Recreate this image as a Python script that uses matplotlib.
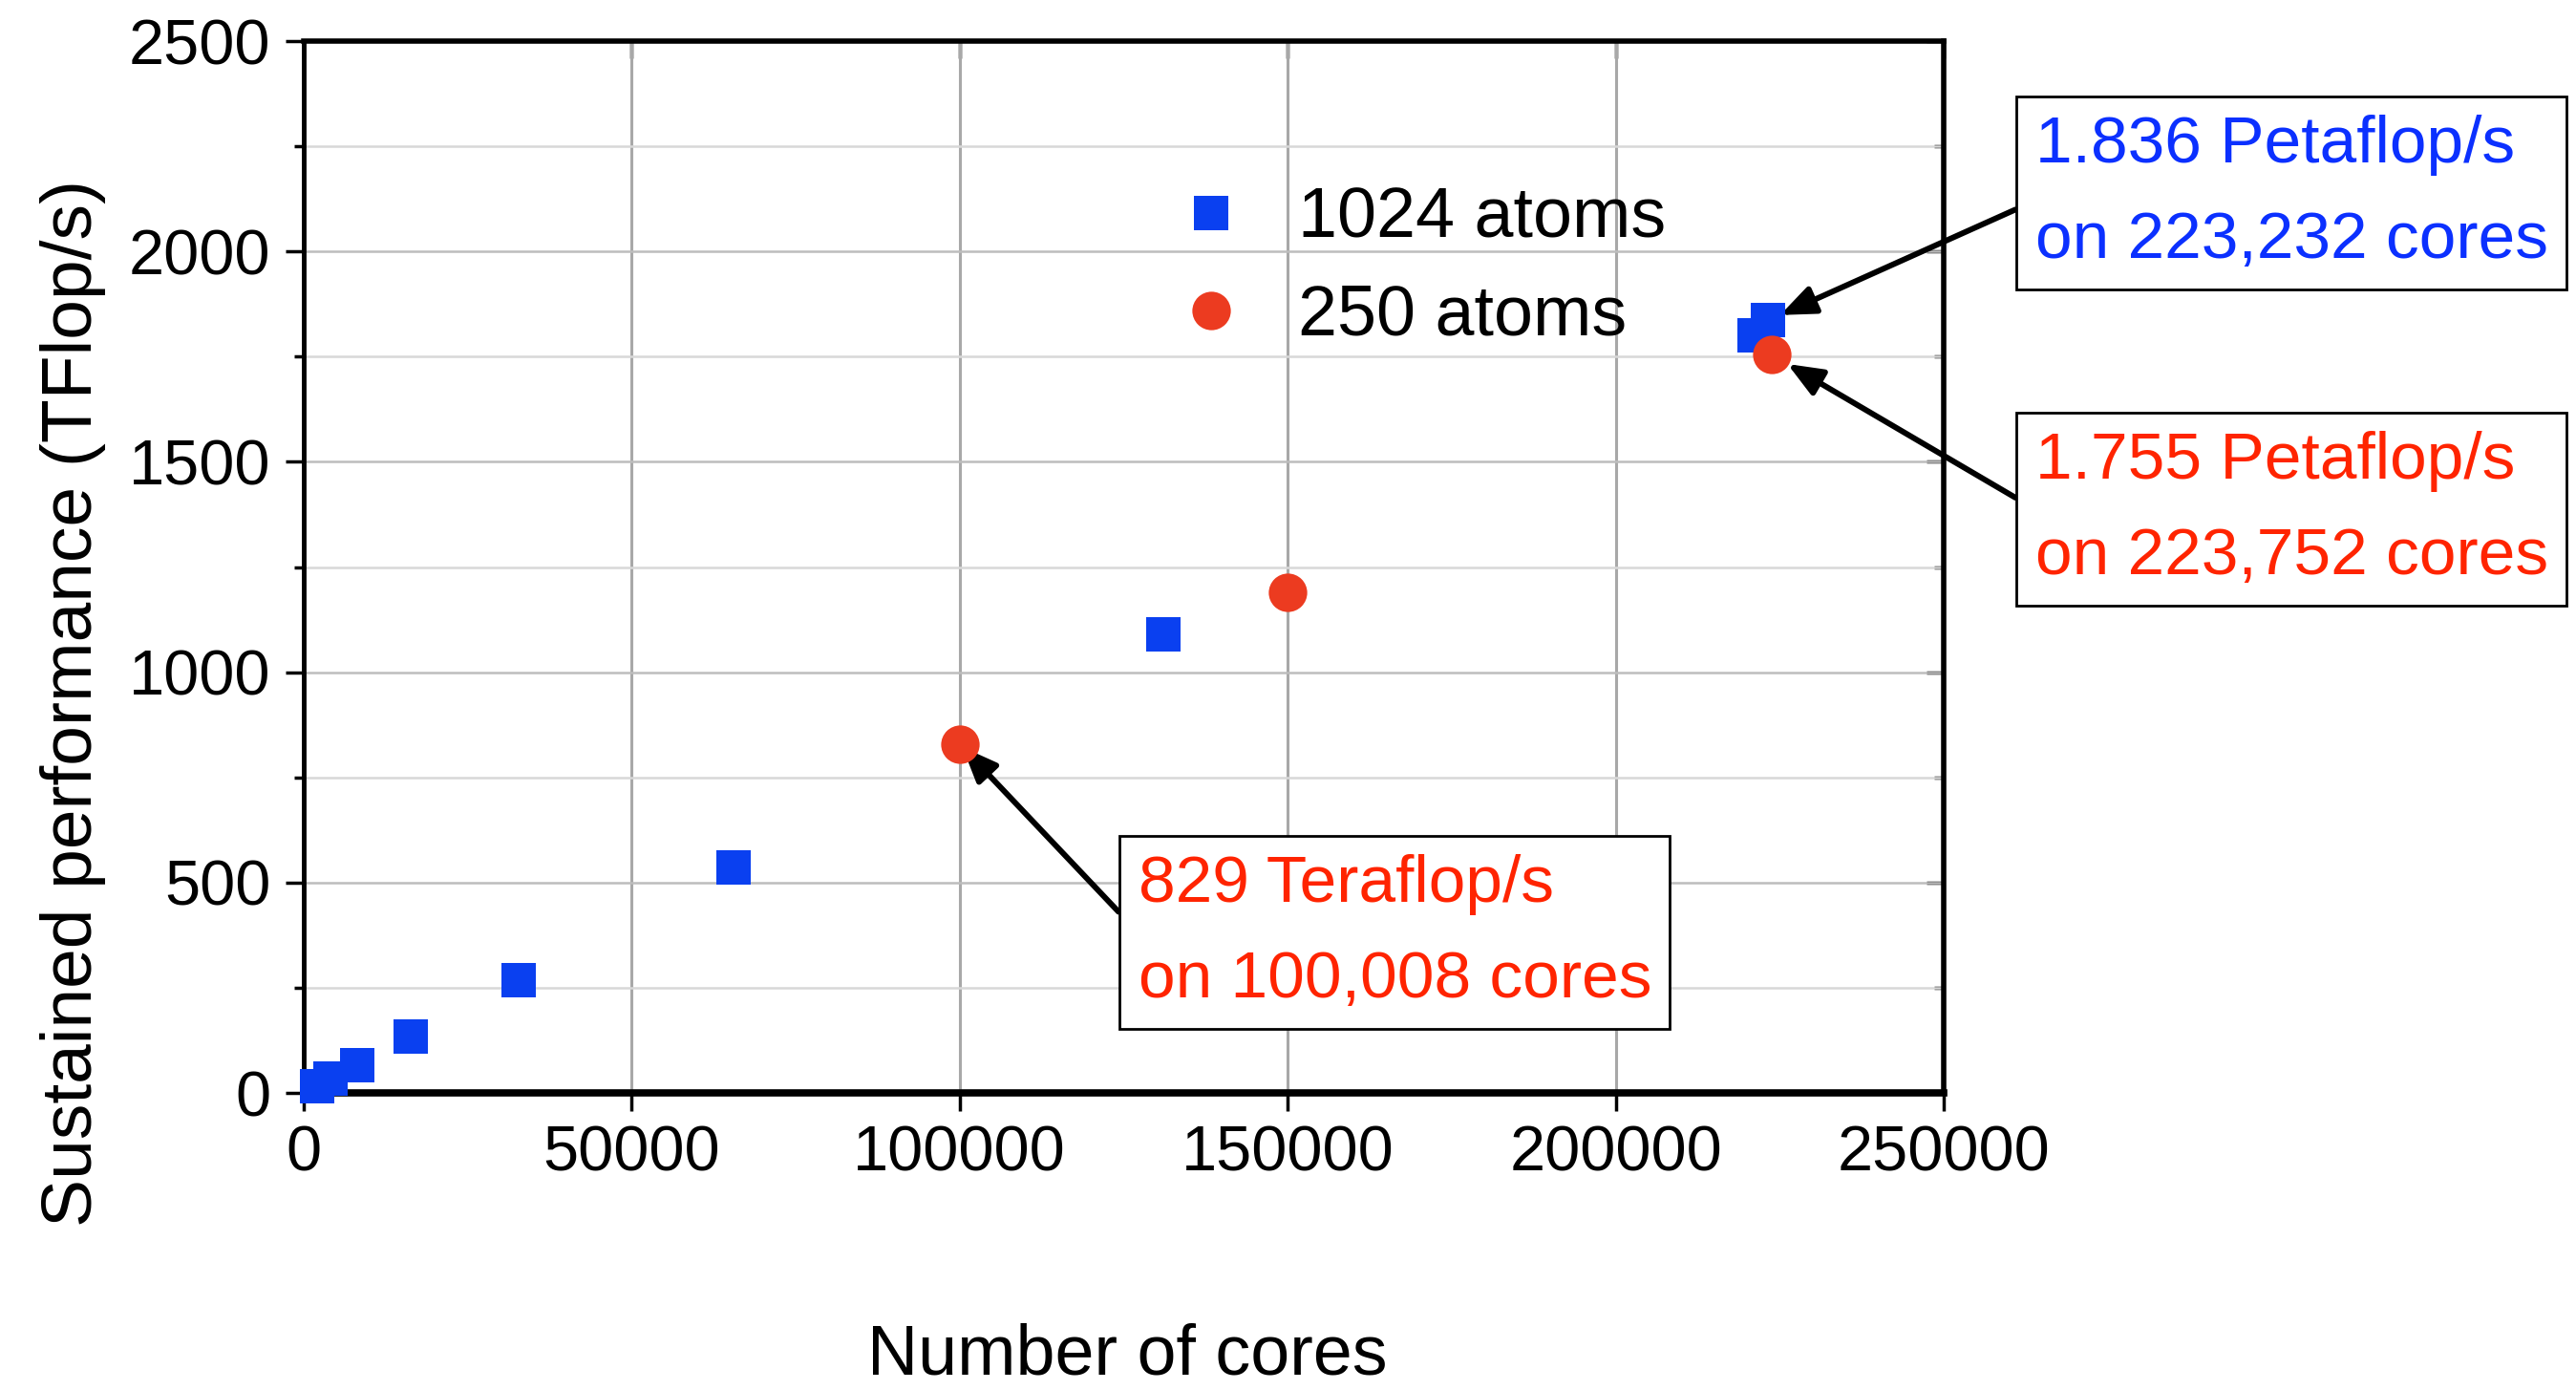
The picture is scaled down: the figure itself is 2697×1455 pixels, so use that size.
import matplotlib
matplotlib.use("Agg")
import matplotlib.pyplot as plt

# data
cores_1024 = [2048, 4096, 8192, 16384, 32768, 65536, 131072, 221184, 223232]
tflops_1024 = [17, 35, 67, 134, 268, 535, 1089, 1800, 1836]
cores_250 = [100008, 150000, 223752]
tflops_250 = [829, 1189, 1755]

xticks = [0, 50000, 100000, 150000, 200000, 250000]
yticks = [0, 500, 1000, 1500, 2000, 2500]

blue = '#0a40f0'
red = '#ec3b20'
blue_txt = '#0b30ff'
red_txt = '#ff2400'

plt.rcParams['font.family'] = ['Liberation Sans', 'DejaVu Sans']

fig = plt.figure(figsize=(26.97, 14.55), dpi=100)
ax = fig.add_axes([0.1179, 0.2137, 0.7545 - 0.1179, 0.9704 - 0.2137])

ax.set_xlim(0, 250000)
ax.set_ylim(0, 2500)
ax.set_xticks(xticks)
ax.set_yticks(yticks)
ax.set_yticks(range(250, 2500, 500), minor=True)
ax.tick_params(axis='both', which='major', labelsize=48, direction='out',
               length=14, width=2.5)
ax.tick_params(axis='x', pad=10)
ax.tick_params(axis='y', pad=11)
ax.tick_params(axis='y', which='minor', direction='out', length=7, width=2.5)

ax.grid(axis='x', which='major', color='#a8a8a8', lw=2.2)
ax.grid(axis='y', which='major', color='#bdbdbd', lw=1.8)
ax.grid(axis='y', which='minor', color='#d8d8d8', lw=1.8)
ax.set_axisbelow(True)

for side, w in [('left', 3.5), ('bottom', 5.5), ('top', 4), ('right', 4)]:
    ax.spines[side].set_linewidth(w)

# inward ticks on the top and right spines
top = ax.secondary_xaxis('top')
top.set_xticks(xticks)
top.tick_params(direction='in', length=13, width=2.5, labeltop=False)
right = ax.secondary_yaxis('right')
right.set_yticks(yticks)
right.set_yticks(range(250, 2500, 500), minor=True)
right.tick_params(which='major', direction='in', length=13, width=2.5, labelright=False)
right.tick_params(which='minor', direction='in', length=7, width=2.5)

ax.plot(cores_1024, tflops_1024, 's', color=blue, ms=26, mew=0,
        label='1024 atoms', clip_on=False, zorder=5)
ax.plot(cores_250, tflops_250, 'o', color=red, ms=29, mew=0,
        label='250 atoms', clip_on=False, zorder=6)

leg = ax.legend(loc='upper left', bbox_to_anchor=(0.4565, 0.866),
                bbox_transform=fig.transFigure, frameon=False,
                fontsize=53, handlelength=1.0,
                handletextpad=0.74, labelspacing=0.44, borderpad=0,
                borderaxespad=0)

arrow = dict(arrowstyle='-|>,head_length=1.1,head_width=0.45', color='black',
             lw=4.3, mutation_scale=20, shrinkA=0)
box = dict(boxstyle='square,pad=0.28', fc='white', ec='black', lw=2)

ax.annotate('1.836 Petaflop/s\non 223,232 cores', xy=(cores_1024[-1], tflops_1024[-1]),
            xytext=(0.7900, 0.8612), textcoords='figure fraction',
            ha='left', va='center', color=blue_txt, fontsize=50,
            linespacing=1.72, bbox=box,
            arrowprops=dict(arrow, shrinkB=10, relpos=(0, 0.45)))
ax.annotate('1.755 Petaflop/s\non 223,752 cores', xy=(cores_250[-1], tflops_250[-1]),
            xytext=(0.7900, 0.6337), textcoords='figure fraction',
            ha='left', va='center', color=red_txt, fontsize=50,
            linespacing=1.72, bbox=box,
            arrowprops=dict(arrow, shrinkB=14, relpos=(0, 0.5)))
ax.annotate('829 Teraflop/s\non 100,008 cores', xy=(cores_250[0], tflops_250[0]),
            xytext=(0.4418, 0.3292), textcoords='figure fraction',
            ha='left', va='center', color=red_txt, fontsize=50,
            linespacing=1.72, bbox=box,
            arrowprops=dict(arrow, shrinkB=3, relpos=(0, 0.5)))

fig.text(0.4375, 0.0247, 'Number of cores', ha='center', va='center',
         fontsize=53)
fig.text(0.0285, 0.494, 'Sustained performance (TFlop/s)', ha='center', va='center',
         rotation=90, fontsize=54)

fig.savefig('out.png', dpi=100, facecolor='white')
